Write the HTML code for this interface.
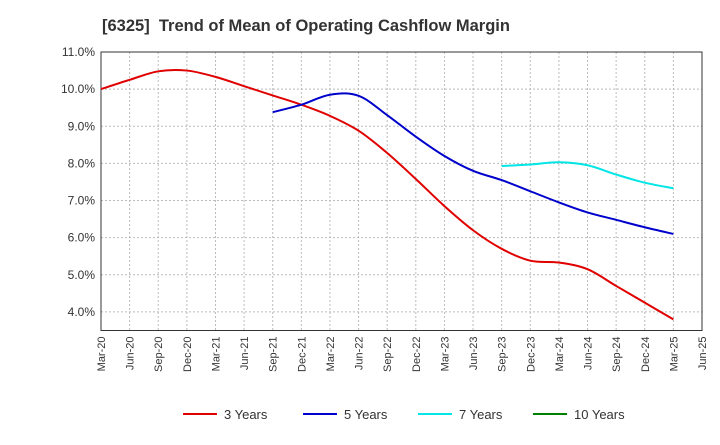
<!DOCTYPE html>
<html><head><meta charset="utf-8"><style>
body{margin:0;background:#fff;font-family:"Liberation Sans",sans-serif;}
</style></head><body>
<svg id="chart" width="720" height="440" xmlns="http://www.w3.org/2000/svg" font-family="Liberation Sans, sans-serif">
<text x="102" y="31" font-size="16.5" font-weight="bold" fill="#333" xml:space="preserve">[6325]  Trend of Mean of Operating Cashflow Margin</text>
<g id="grid"></g><g id="axes"></g><g id="series"></g>
<g id="legend"></g>
</svg>
<script>
const xLabels=["Mar-20","Jun-20","Sep-20","Dec-20","Mar-21","Jun-21","Sep-21","Dec-21","Mar-22","Jun-22","Sep-22","Dec-22","Mar-23","Jun-23","Sep-23","Dec-23","Mar-24","Jun-24","Sep-24","Dec-24","Mar-25","Jun-25"];
const yTicks=[4,5,6,7,8,9,10,11];
const s3=[10.0,10.25,10.48,10.5,10.33,10.08,9.83,9.58,9.28,8.88,8.28,7.58,6.85,6.2,5.7,5.38,5.33,5.15,4.7,4.25,3.8];
const s5=[null,null,null,null,null,null,9.38,9.58,9.85,9.82,9.3,8.72,8.2,7.8,7.55,7.25,6.95,6.68,6.48,6.28,6.1];
const s7=[null,null,null,null,null,null,null,null,null,null,null,null,null,null,7.93,7.97,8.03,7.95,7.7,7.48,7.33];
const s10=[];
const L=101,R=702,T=52,B=330.5,yMin=3.5,yMax=11;
const xs=i=>L+(R-L)*i/(xLabels.length-1);
const ys=v=>B-(v-yMin)/(yMax-yMin)*(B-T);
const NS="http://www.w3.org/2000/svg";
function mk(tag,attrs,parent){const e=document.createElementNS(NS,tag);for(const k in attrs)e.setAttribute(k,attrs[k]);document.getElementById(parent).appendChild(e);return e;}
const g="grid",a="axes";
let r=mk("rect",{x:L,y:T,width:R-L,height:B-T,fill:"none",stroke:"#333"},a);


yTicks.forEach(v=>{
 const l=mk("line",{x1:L,x2:R,y1:ys(v),y2:ys(v),stroke:"#bbb","stroke-dasharray":"2,2"},g);
 
 
 const t=mk("text",{x:L-6,y:ys(v)+4,"font-size":12,"text-anchor":"end",fill:"#333"},a);
 
 
 t.textContent=v.toFixed(1)+"%";
});
xLabels.forEach((lab,i)=>{
 const x=xs(i);
 if(i>0&&i<xLabels.length-1){const l=mk("line",{x1:x,x2:x,y1:T,y2:B,stroke:"#bbb","stroke-dasharray":"2,2"},g);
 
 }
 const t=mk("text",{x:0,y:0,"font-size":11,"text-anchor":"end",fill:"#333",transform:`translate(${x+4},${B+6}) rotate(-90)`},a);
 
 
 t.textContent=lab;
});
function path(data){
 const p=[];data.forEach((v,i)=>{if(v!=null)p.push([xs(i),ys(v)]);});
 if(p.length<2)return "";
 let d=`M${p[0][0]},${p[0][1]}`;
 for(let i=0;i<p.length-1;i++){
  const p0=p[i-1]||p[i],p1=p[i],p2=p[i+1],p3=p[i+2]||p2;
  const c1=[p1[0]+(p2[0]-p0[0])/6,p1[1]+(p2[1]-p0[1])/6],c2=[p2[0]-(p3[0]-p1[0])/6,p2[1]-(p3[1]-p1[1])/6];
  d+=`C${c1[0]},${c1[1]} ${c2[0]},${c2[1]} ${p2[0]},${p2[1]}`;
 }
 return d;
}
const series=[["3 Years",s3,"#e00000","series-3-years"],["5 Years",s5,"#0000cc","series-5-years"],["7 Years",s7,"#00e5e5","series-7-years"],["10 Years",s10,"#008000","series-10-years"]];
const lx=[183,303,418,533];
series.forEach((s,k)=>{
 const d=path(s[1]);
 if(d){const e=mk("path",{d:d,fill:"none",stroke:s[2],"stroke-width":2},"series");
 
 }
 const l=mk("line",{x1:lx[k],x2:lx[k]+34,y1:414,y2:414,stroke:s[2],"stroke-width":2},"legend");
 
 
 const t=mk("text",{x:lx[k]+41,y:419,"font-size":13,fill:"#333"},"legend");
 
 
 t.textContent=s[0];
});
</script>
</body></html>
